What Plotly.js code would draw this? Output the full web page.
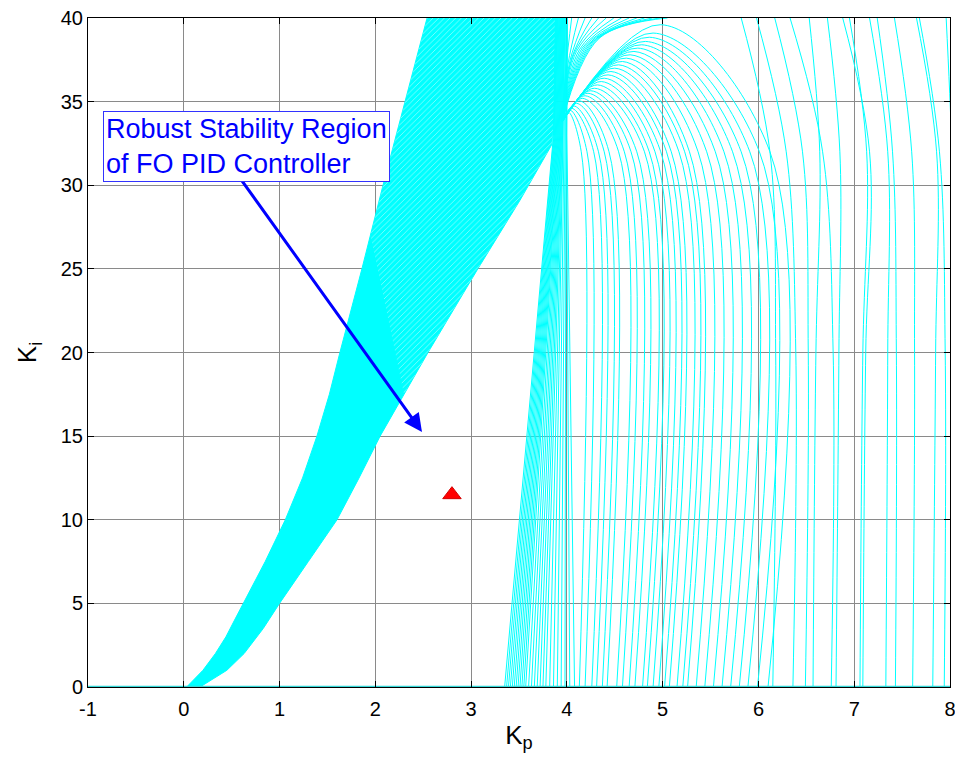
<!DOCTYPE html>
<html>
<head>
<meta charset="utf-8">
<script src="https://cdn.plot.ly/plotly-3.0.1.min.js"></script>
<style>html,body{margin:0;padding:0;background:#fff;}#chart{width:955px;height:761px;}</style>
</head>
<body>
<div id="chart"></div>
<script>
// ---- axis ticks ----
const xTicks = [-1, 0, 1, 2, 3, 4, 5, 6, 7, 8];
const yTicks = [0, 5, 10, 15, 20, 25, 30, 35, 40];

// ---- left stability band (edges) ----
const bandLeftKi  = [0, 1, 2, 3, 4, 5, 7.5, 10, 12.5, 15, 17.5, 20, 25, 30, 35, 40];
const bandLeftKp  = [0.03, 0.20, 0.33, 0.44, 0.53, 0.62, 0.85, 1.06, 1.24, 1.39, 1.52, 1.63, 1.86, 2.08, 2.31, 2.54];
const bandRightKi = [40, 34, 32.4, 29.1, 25, 20, 17.5, 15, 12.5, 10, 7.5, 5, 3.5, 2, 1, 0];
const bandRightKp = [3.90, 3.87, 3.84, 3.51, 3.07, 2.55, 2.30, 2.05, 1.83, 1.60, 1.30, 1.00, 0.83, 0.63, 0.45, 0.17];
// lighter, hatched upper part of the band
const hatchLeftKi  = [27, 30, 35, 40];
const hatchLeftKp  = [1.95, 2.08, 2.31, 2.54];
const hatchRightKi = [40, 34, 32.4, 29.1, 25, 20, 17.5];
const hatchRightKp = [3.90, 3.87, 3.84, 3.51, 3.07, 2.55, 2.30];

// ---- dense fan of curves starting near Kp 3.35 ----
const fanBottomKp = [3.35,3.37,3.39,3.41,3.43,3.45,3.47,3.49,3.51,3.53,3.55,3.57,3.60,3.63,3.66,3.69,3.72,3.75,3.78,3.82,3.86,3.90,3.94,3.98,4.03,4.08];
const fanMidKp    = [3.86,3.865,3.87,3.875,3.88,3.885,3.89,3.895,3.90,3.905,3.91,3.915,3.92,3.925,3.93,3.935,3.94,3.945,3.95,3.955,3.96,3.97,3.98,3.99,3.995,4.0];
const fanTopKp    = [3.88,3.885,3.89,3.895,3.90,3.905,3.91,3.915,3.92,3.925,3.93,3.935,3.94,3.945,3.95,3.955,3.96,3.965,3.97,3.975,3.98,3.985,3.99,4.0,4.003,4.006];
const fanMidKi = 33, fanTopKi = 40;

// ---- arcs closing below Ki = 40 (bottom Kp, Kp at Ki 32, peak) ----
const arcX0  = [4.13,4.19,4.26,4.31,4.37,4.42,4.52,4.58,4.65,4.71,4.79,4.84,4.90,4.96,5.02,5.07,5.15,5.21,5.26,5.35,5.44,5.53,5.62,5.71,5.80,5.89,5.99,6.10];
const arcXb  = [4.15,4.21,4.28,4.33,4.39,4.44,4.54,4.60,4.67,4.73,4.81,4.86,4.92,4.98,5.04,5.09,5.17,5.23,5.28,5.37,5.46,5.55,5.64,5.73,5.82,5.91,6.01,6.12];
const arcPx  = [4.01,4.03,4.05,4.07,4.10,4.13,4.16,4.19,4.22,4.25,4.29,4.32,4.36,4.39,4.43,4.46,4.50,4.54,4.58,4.62,4.66,4.70,4.74,4.78,4.82,4.86,4.90,4.98];
const arcPy  = [34.4,34.5,34.6,34.75,34.9,35.05,35.2,35.35,35.5,35.65,35.8,36.0,36.2,36.4,36.6,36.8,37.0,37.2,37.4,37.6,37.8,38.0,38.2,38.4,38.6,38.85,39.1,39.6];
const arcBaseKi = 32;
const meetKp = 3.95, meetKi = 33.8;

// ---- tall curves leaving through the top ----
const tallX0  = [6.15,6.36,6.49,6.57,6.76,6.81,7.06,7.09,7.33,7.43,7.61,7.82,7.94,8.05];
const tallX20 = [6.18,6.39,6.52,6.60,6.78,6.84,7.09,7.12,7.35,7.44,7.63,7.85,7.95,8.06];
const tallX32 = [6.12,6.29,6.46,6.64,6.67,6.85,7.13,7.16,7.35,7.40,7.60,7.86,7.89,8.02];
const tallX40 = [5.82,5.98,6.17,6.53,6.33,6.72,6.95,6.88,7.16,7.24,7.42,7.65,7.68,7.96];

// ---- returning branches entering from the top ----
const backTopKp = [4.05,4.12,4.19,4.26,4.33,4.41,4.49,4.57,4.65,4.73,4.81,4.89,4.97,5.05];
const backMidKp = [3.99,4.01,4.03,4.05,4.07,4.10,4.13,4.16,4.19,4.22,4.25,4.28,4.31,4.34];
const backMidKi = [37.0,37.2,37.4,37.6,37.8,38.0,38.1,38.2,38.3,38.4,38.5,38.6,38.7,38.8];

// ---- chosen controller ----
const pointKp = [2.8];
const pointKi = [11.5];

const CYAN = '#00ffff';
const traces = [];

// band polygon
traces.push({
  x: bandLeftKp.concat(bandRightKp),
  y: bandLeftKi.concat(bandRightKi),
  mode: 'lines', fill: 'toself', fillcolor: CYAN,
  line: {color: CYAN, width: 1}, hoverinfo: 'skip'
});
// faint white hatching over the upper band
traces.push({
  x: hatchLeftKp.concat(hatchRightKp),
  y: hatchLeftKi.concat(hatchRightKi),
  mode: 'lines', fill: 'toself', fillcolor: 'rgba(0,0,0,0)',
  fillpattern: {shape: '/', fgcolor: '#ffffff', fgopacity: 0.5, bgcolor: 'rgba(0,0,0,0)', size: 4, solidity: 0.22},
  line: {color: 'rgba(0,0,0,0)', width: 0}, hoverinfo: 'skip'
});

// fan
(function(){
  const xs = [], ys = [];
  fanBottomKp.forEach((b, i) => {
    xs.push(b, fanMidKp[i], fanTopKp[i], null);
    ys.push(0, fanMidKi, fanTopKi, null);
  });
  traces.push({x: xs, y: ys, mode: 'lines', line: {color: CYAN, width: 1}, hoverinfo: 'skip'});
})();

// arcs
arcX0.forEach((b, i) => {
  traces.push({
    x: [b, arcXb[i], arcPx[i], meetKp],
    y: [0, arcBaseKi, arcPy[i], meetKi],
    mode: 'lines', line: {color: CYAN, width: 1, shape: 'spline', smoothing: 1}, hoverinfo: 'skip'
  });
});

// tall curves
tallX0.forEach((b, i) => {
  traces.push({
    x: [b, tallX20[i], tallX32[i], tallX40[i]],
    y: [0, 20, 32, 40],
    mode: 'lines', line: {color: CYAN, width: 1, shape: 'spline', smoothing: 1}, hoverinfo: 'skip'
  });
});

// returning branches
backTopKp.forEach((t, i) => {
  traces.push({
    x: [t, backMidKp[i], meetKp],
    y: [40, backMidKi[i], meetKi],
    mode: 'lines', line: {color: CYAN, width: 1, shape: 'spline', smoothing: 1}, hoverinfo: 'skip'
  });
});

// base line on Ki = 0
traces.push({x: [xTicks[0], xTicks[xTicks.length-1]], y: [0, 0], mode: 'lines',
  line: {color: '#33d6d6', width: 2.5}, cliponaxis: false, hoverinfo: 'skip'});

// controller point
traces.push({x: pointKp, y: pointKi, mode: 'markers',
  marker: {symbol: 'triangle-up', size: 16, color: '#ff0000', line: {color: '#d00000', width: 1}},
  hoverinfo: 'skip'});

const FONT = 'Liberation Sans, Arial, sans-serif';
const axisFont = {family: FONT, size: 20, color: '#000'};
const layout = {
  width: 955, height: 761,
  margin: {l: 88, r: 5, t: 18, b: 74},
  paper_bgcolor: '#fff', plot_bgcolor: '#fff',
  showlegend: false, hovermode: false,
  xaxis: {
    range: [-1, 8], tickvals: xTicks, ticktext: xTicks.map(String),
    ticks: 'inside', ticklen: 6, tickcolor: '#000', showline: true, linecolor: '#000', linewidth: 1,
    mirror: 'ticks', showgrid: true, gridcolor: '#8a8a8a', gridwidth: 1, zeroline: false,
    tickfont: axisFont, ticklabeloverflow: 'allow', ticklabelstandoff: 4,
    title: {text: 'K<sub>p</sub>', font: {family: FONT, size: 26, color: '#000'}, standoff: 6}
  },
  yaxis: {
    range: [0, 40], tickvals: yTicks, ticktext: yTicks.map(String),
    ticks: 'inside', ticklen: 6, tickcolor: '#000', showline: true, linecolor: '#000', linewidth: 1,
    mirror: 'ticks', showgrid: true, gridcolor: '#8a8a8a', gridwidth: 1, zeroline: false,
    tickfont: axisFont, ticklabeloverflow: 'allow',
    title: {text: 'K<sub>i</sub>', font: {family: FONT, size: 26, color: '#000'}, standoff: 16}
  },
  annotations: [
    {
      x: 2.487, y: 15.25, xref: 'x', yref: 'y',
      ax: 0.587, ay: 30.43, axref: 'x', ayref: 'y',
      text: '', showarrow: true, arrowhead: 2, arrowsize: 1.2, arrowwidth: 3,
      arrowcolor: '#0000ff'
    },
    {
      x: 0.65, y: 32.3, xref: 'x', yref: 'y',
      text: 'Robust Stability Region<br>of FO PID Controller',
      showarrow: false, align: 'left',
      font: {family: FONT, size: 27, color: '#0000ff'},
      bgcolor: '#ffffff', bordercolor: '#3333ff', borderwidth: 1, borderpad: 2
    }
  ]
};

Plotly.newPlot('chart', traces, layout, {displayModeBar: false, staticPlot: true});
</script>
</body>
</html>
